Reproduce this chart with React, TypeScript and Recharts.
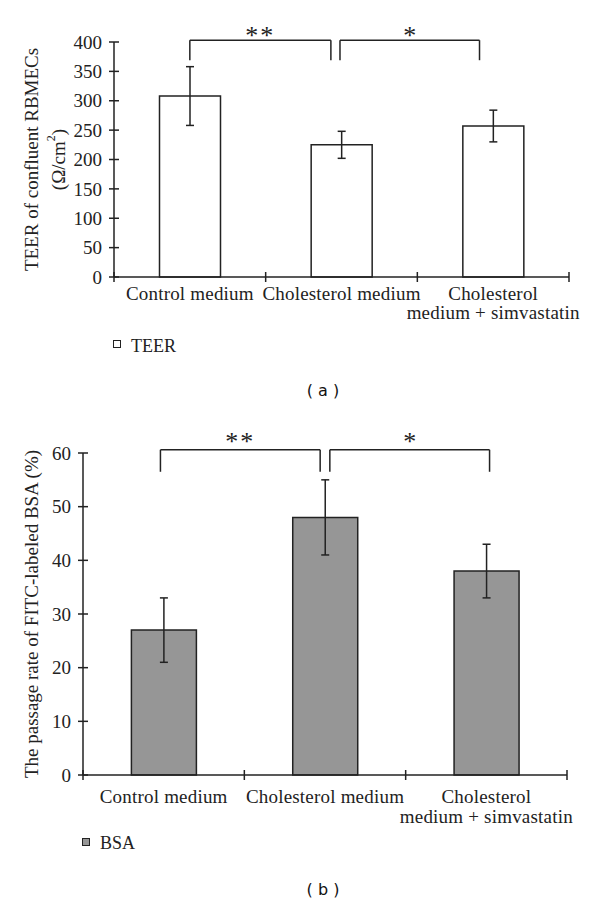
import React from "react";
import { BarChart, Bar, XAxis, YAxis, ErrorBar, ReferenceLine } from "recharts";

const categories = ["Control medium", "Cholesterol medium", "Cholesterol\nmedium + simvastatin"];
const positions = [0.5, 1.5, 2.5]; // category centres on a 0..3 scale

const teerValues = [308, 225, 257];
const teerErrors = [50, 23, 27];
const teerTicks = [0, 50, 100, 150, 200, 250, 300, 350, 400];

const bsaValues = [27, 48, 38];
const bsaErrors = [6, 7, 5];
const bsaTicks = [0, 10, 20, 30, 40, 50, 60];

// significance brackets, x on the same 0..3 scale
const teerBrackets = [
  { from: 0.5, to: 1.43, label: "**" },
  { from: 1.49, to: 2.41, label: "*" },
];
const teerBracketY = [403, 369]; // bar, feet
const bsaBrackets = [
  { from: 0.48, to: 1.47, label: "**" },
  { from: 1.53, to: 2.52, label: "*" },
];
const bsaBracketY = [60.6, 56.5];

const SERIF = '"Liberation Serif", "Times New Roman", serif';
const INK = "#222";

interface PanelProps {
  values: number[];
  errors: number[];
  ticks: number[];
  fill: string;
  yLabel: string[];
  brackets: { from: number; to: number; label: string }[];
  bracketY: number[];
  left: number;
  right: number;
  top: number;
  bottom: number;
  height: number;
  labelBase: number;
  labelGap: number;
  starDy: number;
}

function Panel(p: PanelProps) {
  const data = categories.map((name, i) => ({ name, pos: positions[i], value: p.values[i], err: p.errors[i] }));
  const W = 600;
  const band = (W - p.left - p.right) / categories.length;
  const plotMid = (p.top + p.bottom) / 2;
  const max = p.ticks[p.ticks.length - 1];

  const yTick = (props: any) => {
    const { y, payload } = props;
    return (
      <g>
        <line x1={p.left - 5} x2={p.left + 5} y1={y} y2={y} stroke={INK} strokeWidth={1.5} />
        <text x={p.left - 12} y={y} dy="0.35em" textAnchor="end" fontFamily={SERIF} fontSize={19} fill={INK}>
          {payload.value}
        </text>
      </g>
    );
  };

  const xTick = (props: any) => {
    const { x, index, payload } = props;
    const lines = String(payload.value).split("\n");
    return (
      <g>
        <line x1={x - band / 2} x2={x - band / 2} y1={p.bottom - 5} y2={p.bottom + 5} stroke={INK} strokeWidth={1.5} />
        {index === categories.length - 1 && (
          <line x1={x + band / 2} x2={x + band / 2} y1={p.bottom - 5} y2={p.bottom + 5} stroke={INK} strokeWidth={1.5} />
        )}
        <text x={x} y={p.bottom + p.labelBase} textAnchor="middle" fontFamily={SERIF} fontSize={19} letterSpacing={0.2} fill={INK}>
          {lines.map((l, i) => (
            <tspan key={i} x={x} dy={i === 0 ? 0 : p.labelGap}>{l}</tspan>
          ))}
        </text>
      </g>
    );
  };

  const yLabel = () => (
    <g>
      {p.yLabel.map((l, i) => {
        const cx = 31 + i * 27;
        return (
          <text key={i} x={cx} y={plotMid} transform={`rotate(-90 ${cx} ${plotMid})`} textAnchor="middle"
            dominantBaseline="central" fontFamily={SERIF} fontSize={19} fill={INK}>
            {l === "(Ω/cm2)" ? (<>(Ω/cm<tspan dy={-7} fontSize={12}>2</tspan><tspan dy={7}>)</tspan></>) : l}
          </text>
        );
      })}
    </g>
  );

  const star = (label: string) => (props: any) => {
    const vb = props.viewBox || {};
    return (
      <text x={vb.x + (vb.width || 0) / 2} y={vb.y + p.starDy} textAnchor="middle" fontFamily={SERIF}
        fontSize={26} letterSpacing={label.length > 1 ? 2 : 0} fill={INK}>
        {label}
      </text>
    );
  };

  return (
    <BarChart width={W} height={p.height} data={data} barCategoryGap="30%"
      margin={{ top: p.top, right: p.right, left: 0, bottom: p.height - p.bottom - 40 }}>
      <XAxis dataKey="name" interval={0} height={40} tickLine={false} tick={xTick}
        axisLine={{ stroke: INK, strokeWidth: 1.5 }} />
      <XAxis xAxisId="ann" dataKey="pos" type="number" domain={[0, 3]} allowDataOverflow hide />
      <YAxis width={p.left} domain={[0, max]} ticks={p.ticks} interval={0} tickLine={false} tick={yTick}
        axisLine={{ stroke: INK, strokeWidth: 1.5 }} label={yLabel} />
      <Bar dataKey="value" fill={p.fill} stroke={INK} strokeWidth={1.5} isAnimationActive={false}>
        <ErrorBar dataKey="err" width={4} stroke={INK} strokeWidth={1.5} isAnimationActive={false} />
      </Bar>
      {p.brackets.map((b, i) => (
        <React.Fragment key={i}>
          <ReferenceLine xAxisId="ann" ifOverflow="visible" stroke={INK} strokeWidth={1.5}
            segment={[{ x: b.from, y: p.bracketY[1] }, { x: b.from, y: p.bracketY[0] }]} />
          <ReferenceLine xAxisId="ann" ifOverflow="visible" stroke={INK} strokeWidth={1.5}
            segment={[{ x: b.from, y: p.bracketY[0] }, { x: b.to, y: p.bracketY[0] }]} label={star(b.label)} />
          <ReferenceLine xAxisId="ann" ifOverflow="visible" stroke={INK} strokeWidth={1.5}
            segment={[{ x: b.to, y: p.bracketY[0] }, { x: b.to, y: p.bracketY[1] }]} />
        </React.Fragment>
      ))}
    </BarChart>
  );
}

function LegendKey({ x, y, size, fill, text, tx, ty }: any) {
  return (
    <>
      <div style={{ position: "absolute", left: x, top: y, width: size - 3, height: size - 3, background: fill, border: `1.5px solid ${INK}` }} />
      <div style={{ position: "absolute", left: tx, top: ty, fontFamily: SERIF, fontSize: 18, color: INK, lineHeight: "20px" }}>{text}</div>
    </>
  );
}

const caption: React.CSSProperties = {
  position: "absolute", left: 0, width: 646, textAlign: "center",
  fontFamily: '"DejaVu Sans", Verdana, sans-serif', fontSize: 16, color: "#111", lineHeight: "20px",
};

export default function App() {
  return (
    <div style={{ position: "absolute", left: 0, top: 0, width: 600, height: 904, background: "#fff", overflow: "hidden" }}>
      <div style={{ position: "absolute", left: 0, top: 0 }}>
        <Panel values={teerValues} errors={teerErrors} ticks={teerTicks} fill="#ffffff"
          yLabel={["TEER of confluent RBMECs", "(Ω/cm2)"]} brackets={teerBrackets} bracketY={teerBracketY}
          left={114} right={31} top={42} bottom={277} height={332} labelBase={23} labelGap={19} starDy={4} />
      </div>
      <LegendKey x={113} y={340} size={9} fill="#fff" text="TEER" tx={131} ty={336} />
      <div style={{ ...caption, top: 381 }}>( a )</div>

      <div style={{ position: "absolute", left: 0, top: 400 }}>
        <Panel values={bsaValues} errors={bsaErrors} ticks={bsaTicks} fill="#969696"
          yLabel={["The passage rate of FITC-labeled BSA (%)"]} brackets={bsaBrackets} bracketY={bsaBracketY}
          left={83} right={33} top={53} bottom={375} height={430} labelBase={28} labelGap={20} starDy={0} />
      </div>
      <LegendKey x={82} y={838} size={9} fill="#969696" text="BSA" tx={100} ty={833} />
      <div style={{ ...caption, top: 880 }}>( b )</div>
    </div>
  );
}
